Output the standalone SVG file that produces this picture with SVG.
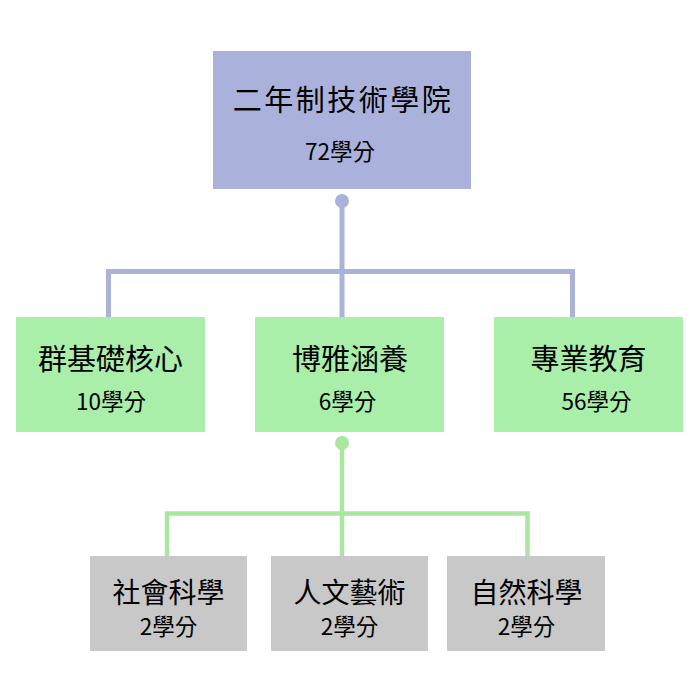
<svg xmlns="http://www.w3.org/2000/svg" width="700" height="700" viewBox="0 0 700 700">
  <style>
    .t { font-family: "Noto Sans CJK TC", "Noto Sans CJK SC", sans-serif; font-weight: 400; fill: #000; text-anchor: middle; dominant-baseline: central; }
    .title { font-size: 28px; }
    .big { font-size: 29px; }
    .sub { font-size: 22.5px; }
    .blue { fill: #AAB2DB; }
    .green { fill: #A9EEA9; }
    .gray { fill: #C8C8C8; }
    .lb { fill: none; stroke: #AAB2DB; stroke-width: 5; }
    .lg { fill: none; stroke: #A9E6A0; stroke-width: 4.5; }
  </style>
  <rect width="700" height="700" fill="#ffffff"/>
  <g id="connectors">
    <path class="lb" d="M342,201 V318 M108.5,318 V271.5 H572.5 V318"/>
    <circle cx="342" cy="201" r="7" fill="#AAB2DB"/>
    <path class="lg" d="M342,443 V557 M167,557 V513.5 H527.5 V557"/>
    <circle cx="342" cy="443" r="7" fill="#A9E6A0"/>
  </g>
  <g id="root">
    <rect class="blue" x="213" y="51" width="258" height="138"/>
    <text class="t big" x="343" y="98" letter-spacing="2.5">二年制技術學院</text>
    <text class="t sub" x="340" y="150">72學分</text>
  </g>
  <g id="core">
    <rect class="green" x="16" y="317" width="189" height="115"/>
    <text class="t big" x="110.5" y="357">群基礎核心</text>
    <text class="t sub" x="111" y="400">10學分</text>
  </g>
  <g id="general">
    <rect class="green" x="255" y="317" width="189" height="115"/>
    <text class="t big" x="350" y="357">博雅涵養</text>
    <text class="t sub" x="347.5" y="400">6學分</text>
  </g>
  <g id="professional">
    <rect class="green" x="494" y="317" width="189" height="115"/>
    <text class="t big" x="588.5" y="357">專業教育</text>
    <text class="t sub" x="596.5" y="400">56學分</text>
  </g>
  <g id="social">
    <rect class="gray" x="90" y="556" width="157" height="95"/>
    <text class="t title" x="168.5" y="591">社會科學</text>
    <text class="t sub" x="168.5" y="625">2學分</text>
  </g>
  <g id="humanities">
    <rect class="gray" x="271" y="556" width="157" height="95"/>
    <text class="t title" x="349.5" y="591">人文藝術</text>
    <text class="t sub" x="349.5" y="625">2學分</text>
  </g>
  <g id="natural">
    <rect class="gray" x="447" y="556" width="158" height="95"/>
    <text class="t title" x="526.5" y="591">自然科學</text>
    <text class="t sub" x="526.5" y="625">2學分</text>
  </g>
</svg>
